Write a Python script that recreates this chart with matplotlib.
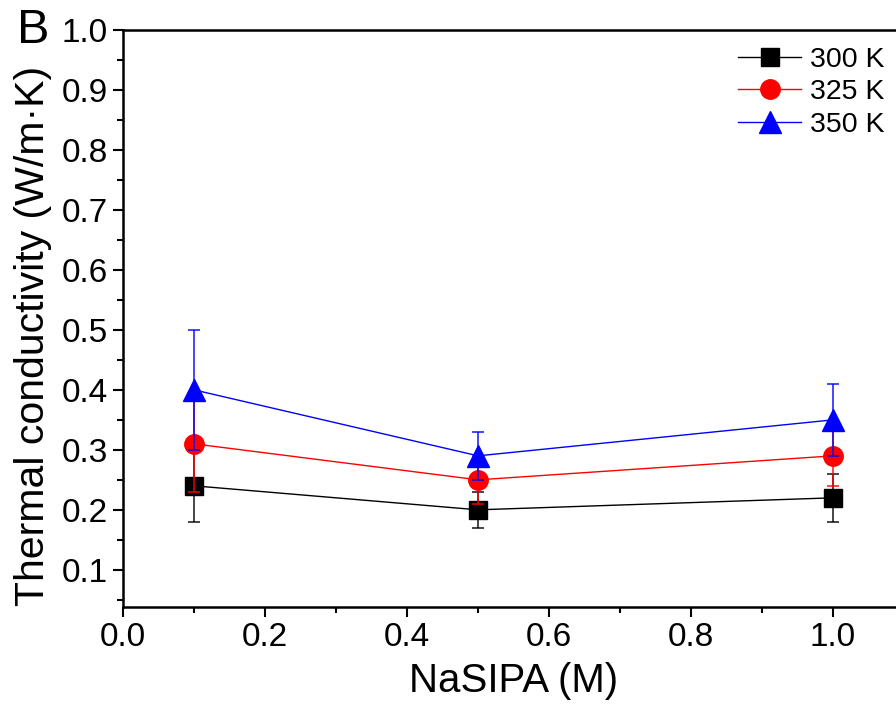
import numpy as np
import matplotlib.pyplot as plt
from matplotlib.ticker import MultipleLocator

plt.rcParams['font.family'] = ['Liberation Sans', 'DejaVu Sans']

# NaSIPA concentration (M)
conc = [0.1, 0.5, 1.0]

# thermal conductivity and error bars
k_300 = [0.24, 0.20, 0.22]
err_300 = [0.06, 0.03, 0.04]
k_325 = [0.31, 0.25, 0.29]
err_325 = [0.08, 0.04, 0.05]
k_350 = [0.40, 0.29, 0.35]
err_350 = [0.10, 0.04, 0.06]

series = [
    ("300 K", k_300, err_300, "black", "s", 13),
    ("325 K", k_325, err_325, "red", "o", 14),
    ("350 K", k_350, err_350, "blue", "^", 16),
]

fig = plt.figure(figsize=(8.96, 7.11), dpi=100)
ax = fig.add_axes([0.1373, 0.1463, 0.8717, 0.8115])

for label, y, e, c, m, ms in series:
    ax.errorbar(conc, y, yerr=e, fmt='none', ecolor=c, elinewidth=1.2,
                capsize=4.5, capthick=1.2, alpha=0.85)
    ax.plot(conc, y, color=c, marker=m, markersize=ms, lw=1, label=label)

ax.set_xlim(0, 1.1)
ax.set_ylim(0.038, 1.0)
ax.xaxis.set_major_locator(MultipleLocator(0.2))
ax.xaxis.set_minor_locator(MultipleLocator(0.1))
ax.yaxis.set_minor_locator(MultipleLocator(0.05))
ax.set_yticks(np.arange(0.1, 1.01, 0.1))
ax.tick_params(which='major', direction='out', length=7.5, width=1.5, labelsize=24)
ax.tick_params(which='minor', direction='out', length=4, width=1.5)
for s in ax.spines.values():
    s.set_linewidth(1.8)

ax.set_xlabel("NaSIPA (M)", fontsize=29, labelpad=6)
ax.set_ylabel("Thermal conductivity (W/m·K)", fontsize=29.5, va='center')
ax.yaxis.set_label_coords(-0.115, 0.47)

ax.legend(loc='upper right', bbox_to_anchor=(1.0, 1.005), frameon=False, fontsize=20.5,
          handlelength=2.2, handletextpad=0.3, labelspacing=0.22, borderaxespad=0.3)

fig.text(0.019, 0.957, "B", fontsize=35, va='center', ha='left')

fig.savefig("out.png", dpi=100)
